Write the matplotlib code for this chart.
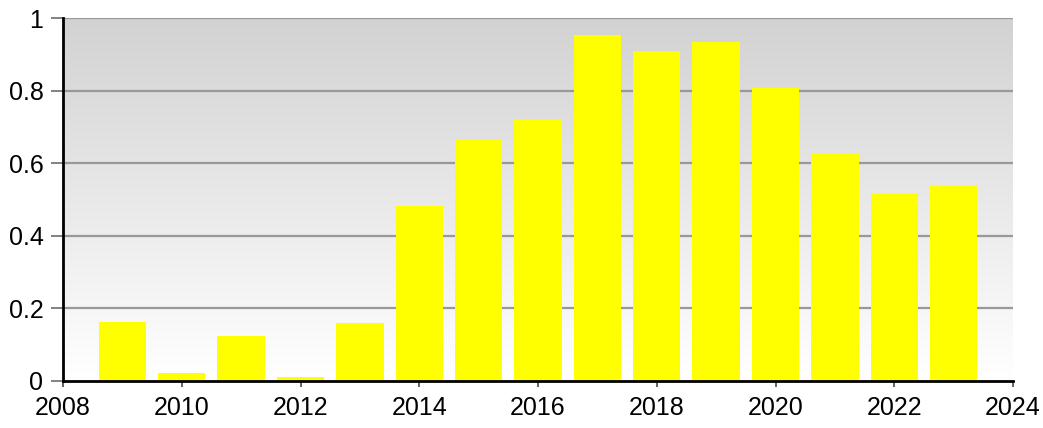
import matplotlib
matplotlib.use("Agg")
import matplotlib.pyplot as plt
import numpy as np
from matplotlib.colors import LinearSegmentedColormap

years = [2009, 2010, 2011, 2012, 2013, 2014, 2015, 2016, 2017, 2018, 2019, 2020, 2021, 2022, 2023]
values = [0.163, 0.023, 0.125, 0.012, 0.16, 0.481, 0.663, 0.72, 0.953, 0.91, 0.935, 0.808, 0.625, 0.515, 0.537]
xticks = [2008, 2010, 2012, 2014, 2016, 2018, 2020, 2022, 2024]
yticks = [0, 0.2, 0.4, 0.6, 0.8, 1.0]
ylabels = ["0", "0.2", "0.4", "0.6", "0.8", "1"]

plt.rcParams['font.family'] = ['Liberation Sans', 'DejaVu Sans']

fig = plt.figure(figsize=(10.43, 4.28), dpi=100)
ax = fig.add_axes([63/1043, 1 - 381/428, (1013-63)/1043, (381-18)/428])

# gradient background
grad = np.linspace(0, 1, 256).reshape(-1, 1)
cmap = LinearSegmentedColormap.from_list("g", ["#ffffff", "#d2d2d2"])
ax.imshow(grad, aspect='auto', cmap=cmap, origin='lower',
          extent=[0, 1, 0, 1], transform=ax.transAxes, zorder=0)

for y in yticks[1:]:
    ax.axhline(y, color='#999999', lw=1.6, zorder=1)

ax.bar(years, values, width=0.8, color='#ffff00', zorder=2)

ax.set_xlim(2008, 2024)
ax.set_ylim(0, 1)
ax.set_xticks(xticks)
ax.set_xticklabels([str(x) for x in xticks])
ax.set_yticks(yticks)
ax.set_yticklabels(ylabels)

for s in ['top', 'right']:
    ax.spines[s].set_visible(False)
ax.spines['left'].set_linewidth(2)
ax.spines['bottom'].set_linewidth(2)
ax.spines['left'].set_zorder(3)
ax.spines['bottom'].set_zorder(3)

ax.tick_params(axis='y', length=8.6, width=1.3, color='#777777', labelsize=18, pad=5.5)
ax.tick_params(axis='x', length=4, width=1.3, color='#555555', labelsize=18, pad=7)

fig.savefig("out.png", dpi=100)
